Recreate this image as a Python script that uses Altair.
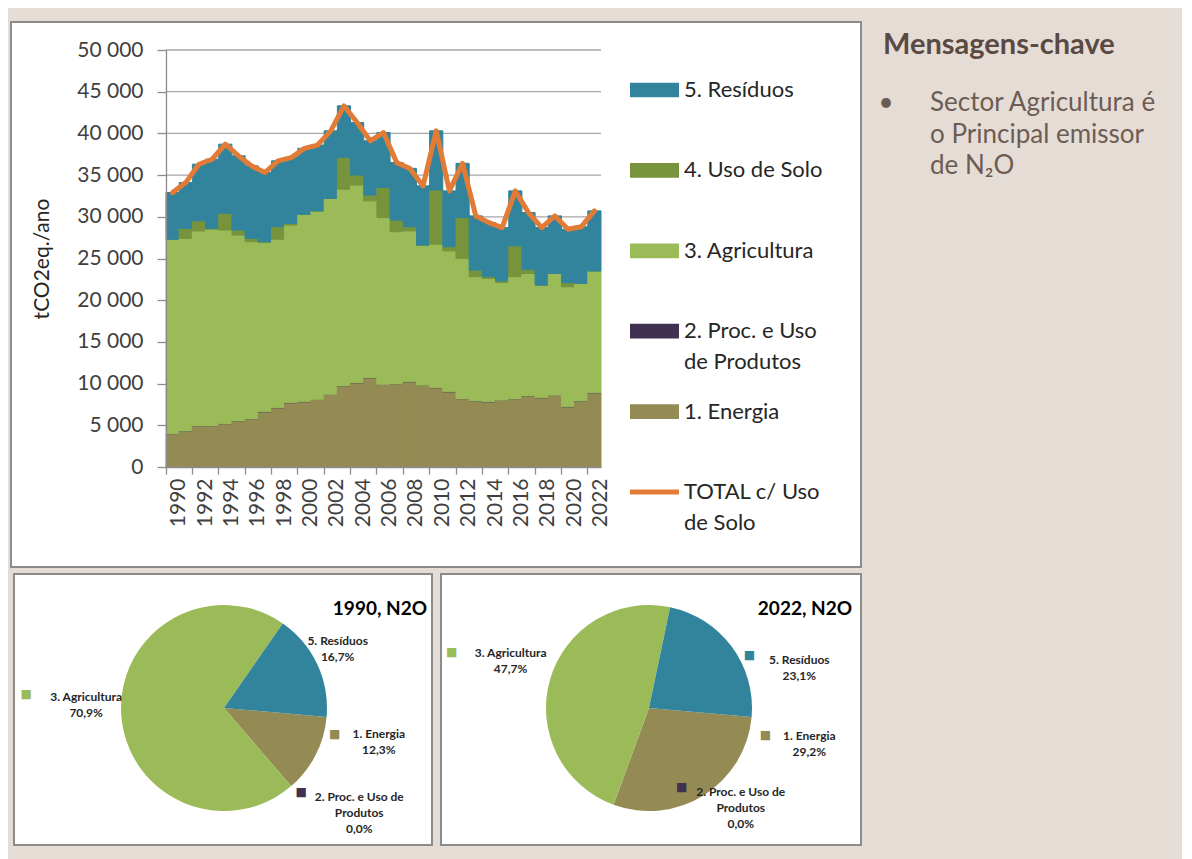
import math
import altair as alt
import pandas as pd

# ---------------- data ----------------
anos = list(range(1990, 2023))
energia = [4000, 4300, 4900, 4900, 5200, 5500, 5800, 6600, 7100, 7700, 7800, 8100, 8700, 9700, 10100, 10700,
           9900, 10000, 10200, 9800, 9500, 9000, 8200, 7900, 7800, 8000, 8200, 8500, 8300, 8600, 7200, 7900, 8900]
proc_uso = [10, 10, 10, 10, 10, 10, 10, 10, 10, 10, 10, 10, 10, 10, 10, 10,
            10, 10, 10, 10, 10, 10, 10, 10, 10, 10, 10, 10, 10, 10, 10, 10, 10]
agricultura = [23300, 23100, 23400, 23600, 23200, 22300, 21200, 20300, 20200, 21300, 22500, 22600, 23500, 23600,
               23700, 21200, 20000, 18200, 18100, 16800, 17200, 16900, 16800, 14900, 14800, 14100, 14600, 14700,
               13500, 14600, 14400, 14100, 14600]
uso_solo = [0, 1200, 1200, 100, 2000, 600, 400, 100, 1500, 200, 0, 0, 0, 3800, 1200, 700,
            3600, 1400, 500, 0, 6500, 500, 4900, 800, 200, 200, 3700, 500, 0, 0, 500, 0, 0]
residuos = [5600, 5500, 6800, 8300, 8300, 8900, 8700, 8300, 7900, 7900, 7900, 7900, 8100, 6200, 6300, 6500,
            6600, 6900, 7000, 7100, 7100, 6700, 6500, 6500, 6500, 6400, 6600, 6800, 6900, 6900, 6400, 6800, 7200]
total = [32900, 34100, 36300, 36900, 38700, 37300, 36100, 35300, 36700, 37100, 38200, 38600, 40300, 43300,
         41300, 39100, 40100, 36500, 35800, 33700, 40300, 33100, 36400, 30100, 29300, 28700, 33100, 30500,
         28700, 30100, 28500, 28800, 30700]

series = ["5. Resíduos", "4. Uso de Solo", "3. Agricultura", "2. Proc. e Uso de Produtos",
          "1. Energia", "TOTAL c/ Uso de Solo"]
legenda_linhas = [["5. Resíduos"], ["4. Uso de Solo"], ["3. Agricultura"], ["2. Proc. e Uso", "de Produtos"],
                  ["1. Energia"], ["TOTAL c/ Uso", "de Solo"]]
cores = ["#31849b", "#77933c", "#9bbb59", "#403152", "#948a54", "#e27b35"]

y_ticks = [0, 5000, 10000, 15000, 20000, 25000, 30000, 35000, 40000, 45000, 50000]
grade = [5000, 10000, 15000, 20000, 25000, 30000, 35000, 40000, 45000, 50000]
x_rotulos = [1990, 1992, 1994, 1996, 1998, 2000, 2002, 2004, 2006, 2008, 2010,
             2012, 2014, 2016, 2018, 2020, 2022]

pizza_nomes = ["1. Energia", "2. Proc. e Uso de Produtos", "3. Agricultura", "5. Resíduos"]
pizza_linhas = {"1. Energia": ["1. Energia"],
                "2. Proc. e Uso de Produtos": ["2. Proc. e Uso de", "Produtos"],
                "3. Agricultura": ["3. Agricultura"],
                "5. Resíduos": ["5. Resíduos"]}
pct_1990 = [12.3, 0.0, 70.9, 16.7]
pct_2022 = [29.2, 0.0, 47.7, 23.1]

msg_titulo = "Mensagens-chave"
msg_linhas = ["Sector Agricultura é", "o Principal emissor", "de N₂O"]

# ---------------- tables ----------------
barras_series = [("1. Energia", energia, 1), ("2. Proc. e Uso de Produtos", proc_uso, 2),
                 ("3. Agricultura", agricultura, 3), ("4. Uso de Solo", uso_solo, 4),
                 ("5. Resíduos", residuos, 5)]
rows = []
for i, a in enumerate(anos):
    for nome, vals, ordem in barras_series:
        rows.append({"ano": a, "serie": nome, "valor": vals[i], "ordem": ordem})
df_bar = pd.DataFrame(rows)
df_tot = pd.DataFrame({"ano": anos, "serie": ["TOTAL c/ Uso de Solo"] * len(anos), "valor": total})
df_grid = pd.DataFrame({"valor": grade})
df_leg = pd.DataFrame({"serie": series, "rotulo": legenda_linhas})
UM = pd.DataFrame({"k": [0]})

FONT = "Lato"
AXC = "#8c8c8c"
BORDA = "#8c8c8c"

cscale = alt.Scale(domain=series, range=cores)
xscale = alt.Scale(paddingInner=0, paddingOuter=0)
yscale = alt.Scale(domain=[0, 50000], nice=False)

yaxis = alt.Axis(values=y_ticks, grid=False, domainColor=AXC, domainWidth=1.3, tickColor=AXC,
                 tickWidth=1.3, tickSize=9, labelFont=FONT, labelFontSize=21, labelColor="#404040",
                 labelPadding=14, labelExpr="replace(format(datum.value, ','), ',', ' ')",
                 title="tCO2eq./ano", titleFont=FONT, titleFontSize=21, titleFontWeight="normal",
                 titleColor="#262626", titlePadding=24, zindex=1)
xaxis = alt.Axis(values=x_rotulos, labelAngle=270, labelFont=FONT, labelFontSize=21,
                 labelColor="#404040", labelPadding=4, tickSize=7, tickColor=AXC, tickWidth=1.3,
                 domainColor=AXC, domainWidth=1.3, bandPosition=0, labelOffset=6.6,
                 labelOverlap=False, title=None, grid=False, zindex=1)


def caixa(x0, x1, y0, y1, **kw):
    return alt.Chart(UM).mark_rect(**kw).encode(
        x=alt.value(x0), x2=alt.value(x1), y=alt.value(y0), y2=alt.value(y1))


def texto(t, x, y, **kw):
    return alt.Chart(pd.DataFrame({"t": [t]})).mark_text(**kw).encode(
        text="t", x=alt.value(x), y=alt.value(y))


# everything is positioned relative to the main plot area (435 x 417)
extensao = caixa(-158, 1016, -42, 800, opacity=0)
fundo = caixa(-155, 695, -28, 517, fill="white", stroke=BORDA, strokeWidth=2)

linhas_grade = alt.Chart(df_grid).mark_rule(color="#a6a6a6", strokeWidth=1.3).encode(
    y=alt.Y("valor:Q", scale=yscale, axis=None)
)

barras = alt.Chart(df_bar).mark_bar(strokeWidth=1).encode(
    x=alt.X("ano:O", scale=xscale, axis=xaxis),
    y=alt.Y("valor:Q", stack="zero", scale=yscale, axis=yaxis),
    color=alt.Color("serie:N", scale=cscale, legend=None),
    stroke=alt.Stroke("serie:N", scale=alt.Scale(domain=series, range=cores), legend=None),
    order=alt.Order("ordem:Q", sort="ascending"),
)

linha = alt.Chart(df_tot).mark_line(strokeWidth=5, strokeCap="round", strokeJoin="round").encode(
    x=alt.X("ano:O", scale=xscale, axis=xaxis),
    y=alt.Y("valor:Q", scale=yscale, axis=None),
    color=alt.Color("serie:N", scale=cscale, legend=None),
)

# legend drawn as its own layer on a point scale
leg_y = alt.Y("serie:N", scale=alt.Scale(type="point", domain=series, range=[40, 442], padding=0), axis=None)
leg_sym = alt.Chart(df_leg).mark_point(filled=True, size=2401, opacity=1, strokeWidth=0).encode(
    x=alt.value(488.5),
    y=leg_y,
    color=alt.Color("serie:N", scale=cscale, legend=None),
    shape=alt.condition(alt.datum.serie == "TOTAL c/ Uso de Solo",
                        alt.value("M-1,-0.1H1V0.1H-1Z"), alt.value("M-1,-0.3H1V0.3H-1Z")),
)
leg_txt = alt.Chart(df_leg).mark_text(
    font=FONT, fontSize=22, color="#262626", align="left", baseline="middle", lineHeight=31
).encode(x=alt.value(518), y=leg_y, text="rotulo")

# ---------------- pies ----------------
A0 = math.radians(95)


def fmt_pct(v):
    return f"{v:.1f}".replace(".", ",") + "%"


def pizza(pct, cx, cy, desloc):
    df = pd.DataFrame({
        "serie": pizza_nomes,
        "pct": pct,
        "ordem": [1, 2, 3, 4],
        "rotulo": [pizza_linhas[n] + [fmt_pct(p)] for n, p in zip(pizza_nomes, pct)],
    })
    theta = alt.Theta("pct:Q", stack=True, scale=alt.Scale(range=[A0, A0 + 2 * math.pi]))
    base = alt.Chart(df).encode(theta=theta, order=alt.Order("ordem:Q", sort="ascending"),
                                x=alt.value(cx), y=alt.value(cy))
    camadas = [base.mark_arc(outerRadius=103).encode(
        color=alt.Color("serie:N", scale=cscale, legend=None))]
    for s, (tdx, tdy, sdx, sdy) in desloc.items():
        vis = alt.condition(alt.datum.serie == s, alt.value(1), alt.value(0))
        camadas.append(base.mark_text(
            radius=120, dx=tdx, dy=tdy, font=FONT, fontSize=12, fontWeight="bold",
            color="#262626", lineHeight=16, align="center", baseline="middle"
        ).encode(text="rotulo", detail="serie:N", opacity=vis))
        if sdx is not None:
            camadas.append(base.mark_text(
                radius=120, dx=sdx, dy=sdy, font="DejaVu Sans", fontSize=12,
                align="center", baseline="middle", text="■"
            ).encode(color=alt.Color("serie:N", scale=cscale, legend=None), opacity=vis))
    return camadas


pie1 = pizza(pct_1990, 58, 658, {
    "1. Energia": (48, -29, 4, -29),
    "2. Proc. e Uso de Produtos": (57, -2, -1, -7),
    "3. Agricultura": (-18, -17, -78, -20),
    "5. Resíduos": (5, -16, None, None),
})
pie2 = pizza(pct_2022, 483, 658, {
    "1. Energia": (96, -73, 52, -74),
    "2. Proc. e Uso de Produtos": (133, -29, 74, -34),
    "3. Agricultura": (-23, -22, -82, -23),
    "5. Resíduos": (54, 24, 4, 19),
})

painel_pie1 = caixa(-152, 266, 524, 795, fill="white", stroke=BORDA, strokeWidth=2)
painel_pie2 = caixa(275, 695, 524, 795, fill="white", stroke=BORDA, strokeWidth=2)
tit1 = texto("1990, N2O", 261, 559, font=FONT, fontSize=19, fontWeight="bold", color="#000000",
             align="right", baseline="middle")
tit2 = texto("2022, N2O", 686, 559, font=FONT, fontSize=19, fontWeight="bold", color="#000000",
             align="right", baseline="middle")

# ---------------- text panel ----------------
msg_t = texto(msg_titulo, 717, -5, font=FONT, fontSize=29, fontWeight="bold", color="#5a4a42",
              align="left", baseline="middle")
msg_b = texto("•", 720, 53, font=FONT, fontSize=26, color="#6d5c54", align="center", baseline="middle")
msg_l = texto(msg_linhas, 764, 53, font=FONT, fontSize=26, color="#6d5c54", align="left",
              baseline="middle", lineHeight=31.5)

camadas = [extensao, fundo, linhas_grade, barras, linha, leg_sym, leg_txt,
           painel_pie1, painel_pie2] + pie1 + pie2 + [tit1, tit2, msg_t, msg_b, msg_l]

chart = alt.layer(*camadas).resolve_scale(
    y="independent", theta="independent"
).properties(
    width=435, height=417,
    background="#e6dcd6",
    padding={"left": 0, "top": 0, "right": 0, "bottom": 0},
).configure_view(stroke=None)

chart.save("out.html", embed_options={"renderer": "svg", "actions": False})
